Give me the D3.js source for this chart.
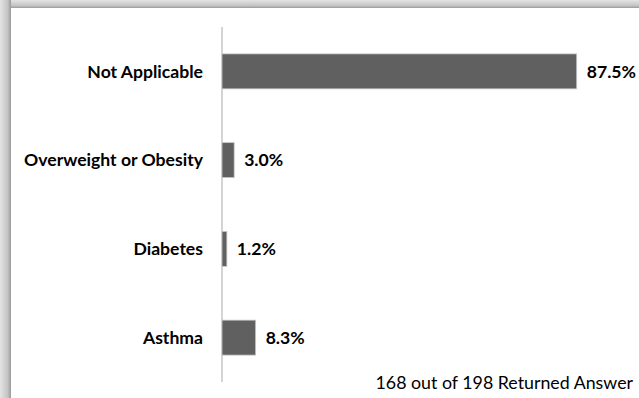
<!DOCTYPE html>
<html><head><meta charset="utf-8">
<script src="https://cdn.jsdelivr.net/npm/d3@7"></script>
<style>
html,body{margin:0;padding:0;background:#fff;}
svg{display:block;}
</style></head>
<body>
<script>
const categories = ["Not Applicable", "Overweight or Obesity", "Diabetes", "Asthma"];
const values = [87.5, 3.0, 1.2, 8.3];
const valueLabels = ["87.5%", "3.0%", "1.2%", "8.3%"];
const footnote = "168 out of 198 Returned Answer";

const W = 639, H = 398;
const svg = d3.select("body").append("svg").attr("width", W).attr("height", H);
const defs = svg.append("defs");
const gTop = defs.append("linearGradient").attr("id","gTop").attr("x1",0).attr("y1",0).attr("x2",0).attr("y2",1);
gTop.append("stop").attr("offset","0%").attr("stop-color","#e4e4e4");
gTop.append("stop").attr("offset","70%").attr("stop-color","#c4c4c4");
gTop.append("stop").attr("offset","100%").attr("stop-color","#9a9a9a");
const gLeft = defs.append("linearGradient").attr("id","gLeft").attr("x1",0).attr("y1",0).attr("x2",1).attr("y2",0);
gLeft.append("stop").attr("offset","0%").attr("stop-color","#e4e4e4");
gLeft.append("stop").attr("offset","70%").attr("stop-color","#c4c4c4");
gLeft.append("stop").attr("offset","100%").attr("stop-color","#9a9a9a");

svg.append("rect").attr("x",0).attr("y",0).attr("width",W).attr("height",H).attr("fill","#fff");
svg.append("rect").attr("x",0).attr("y",0).attr("width",W).attr("height",8).attr("fill","url(#gTop)");
svg.append("rect").attr("x",0).attr("y",0).attr("width",11).attr("height",H).attr("fill","url(#gLeft)");

const x = d3.scaleLinear().domain([0, 100]).range([222, 627.4]);
const y = d3.scaleBand().domain(categories).range([27, 382]).paddingInner(0.606).paddingOuter(0.303);

svg.append("line").attr("x1", x(0)).attr("x2", x(0)).attr("y1", 27).attr("y2", 382)
  .attr("stroke", "#b8b8b8").attr("stroke-width", 1.2);

const font = "Lato, 'Open Sans', sans-serif";

svg.selectAll("rect.bar").data(categories).enter().append("rect")
  .attr("class","bar")
  .attr("x", x(0))
  .attr("y", d => y(d))
  .attr("width", (d,i) => x(values[i]) - x(0))
  .attr("height", y.bandwidth())
  .attr("fill", "#606060")
  .attr("stroke", "#c8c8c8").attr("stroke-width", 0.8);

svg.selectAll("text.cat").data(categories).enter().append("text")
  .attr("class","cat")
  .attr("x", 203)
  .attr("y", d => y(d) + y.bandwidth()/2)
  .attr("dy", "0.35em")
  .attr("text-anchor","end")
  .attr("font-family", font).attr("font-weight","bold").attr("font-size", 17.6)
  .attr("fill","#000")
  .text(d => d);

svg.selectAll("text.val").data(categories).enter().append("text")
  .attr("class","val")
  .attr("x", (d,i) => x(values[i]) + 10)
  .attr("y", d => y(d) + y.bandwidth()/2)
  .attr("dy", "0.35em")
  .attr("font-family", font).attr("font-weight","bold").attr("font-size", 17.6)
  .attr("fill","#000")
  .text((d,i) => valueLabels[i]);

svg.append("text")
  .attr("x", 633).attr("y", 389)
  .attr("text-anchor","end")
  .attr("font-family", font).attr("font-size", 17.8)
  .attr("fill","#000")
  .text(footnote);
</script>
</body></html>
